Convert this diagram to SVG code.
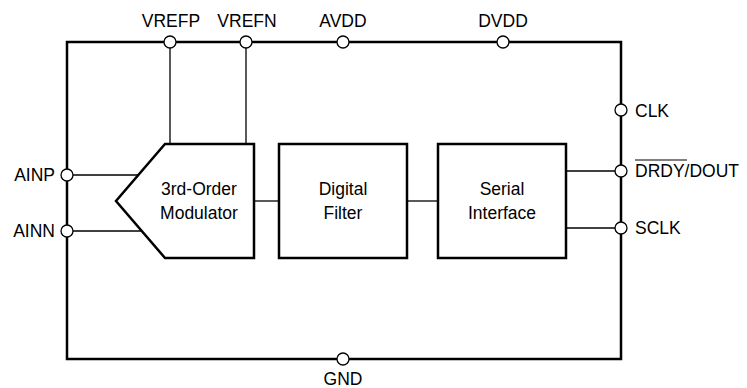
<svg xmlns="http://www.w3.org/2000/svg" width="747" height="388" viewBox="0 0 747 388">
<style>
.lbl{font-family:"Liberation Sans",Arial,sans-serif;font-size:17.5px;fill:#000}
.blk{fill:#fff;stroke:#000;stroke-width:2.5}
.wire{stroke:#000;stroke-width:1.3;fill:none}
.pin{fill:#fff;stroke:#000;stroke-width:1.3}
</style>
<rect width="747" height="388" fill="#fff"/>
<g id="chip">
<rect x="67" y="42" width="554" height="317" fill="none" stroke="#000" stroke-width="2.5"/>
</g>
<g id="connectors">
<line class="wire" x1="170" y1="42" x2="170" y2="144"/>
<line class="wire" x1="246" y1="42" x2="246" y2="144"/>
<line class="wire" x1="67" y1="175" x2="138.3" y2="175"/>
<line class="wire" x1="67" y1="231" x2="141.8" y2="231"/>
<line class="wire" x1="254" y1="201" x2="279" y2="201"/>
<line class="wire" x1="407" y1="201" x2="438" y2="201"/>
<line class="wire" x1="566" y1="171" x2="621" y2="171"/>
<line class="wire" x1="566" y1="228" x2="621" y2="228"/>
</g>
<g id="modulator">
<polygon class="blk" points="165,144 254,144 254,258 165,258 116,201"/>
<text class="lbl" x="199" y="195" text-anchor="middle">3rd-Order</text>
<text class="lbl" x="199" y="219" text-anchor="middle">Modulator</text>
</g>
<g id="digital-filter">
<rect class="blk" x="279" y="144" width="128" height="114"/>
<text class="lbl" x="343" y="195" text-anchor="middle">Digital</text>
<text class="lbl" x="343" y="219" text-anchor="middle">Filter</text>
</g>
<g id="serial-interface">
<rect class="blk" x="438" y="144" width="128" height="114"/>
<text class="lbl" x="502" y="195" text-anchor="middle">Serial</text>
<text class="lbl" x="502" y="219" text-anchor="middle">Interface</text>
</g>
<g id="pin-vrefp">
<circle class="pin" cx="170" cy="42" r="6"/>
<text class="lbl" x="171" y="27" text-anchor="middle">VREFP</text>
</g>
<g id="pin-vrefn">
<circle class="pin" cx="246" cy="42" r="6"/>
<text class="lbl" x="247" y="27" text-anchor="middle">VREFN</text>
</g>
<g id="pin-avdd">
<circle class="pin" cx="343" cy="42" r="6"/>
<text class="lbl" x="343" y="27" text-anchor="middle">AVDD</text>
</g>
<g id="pin-dvdd">
<circle class="pin" cx="503" cy="42" r="6"/>
<text class="lbl" x="503" y="27" text-anchor="middle">DVDD</text>
</g>
<g id="pin-ainp">
<circle class="pin" cx="67" cy="175" r="6"/>
<text class="lbl" x="55" y="181" text-anchor="end">AINP</text>
</g>
<g id="pin-ainn">
<circle class="pin" cx="67" cy="231" r="6"/>
<text class="lbl" x="55" y="237" text-anchor="end">AINN</text>
</g>
<g id="pin-clk">
<circle class="pin" cx="621" cy="110" r="6"/>
<text class="lbl" x="635" y="117">CLK</text>
</g>
<g id="pin-drdy">
<circle class="pin" cx="621" cy="171" r="6"/>
<text class="lbl" x="635" y="177">DRDY/DOUT</text>
<line x1="635" y1="160" x2="687" y2="160" stroke="#000" stroke-width="1.2"/>
</g>
<g id="pin-sclk">
<circle class="pin" cx="621" cy="228" r="6"/>
<text class="lbl" x="635" y="234">SCLK</text>
</g>
<g id="pin-gnd">
<circle class="pin" cx="343" cy="359" r="6"/>
<text class="lbl" x="343" y="385" text-anchor="middle">GND</text>
</g>
</svg>
